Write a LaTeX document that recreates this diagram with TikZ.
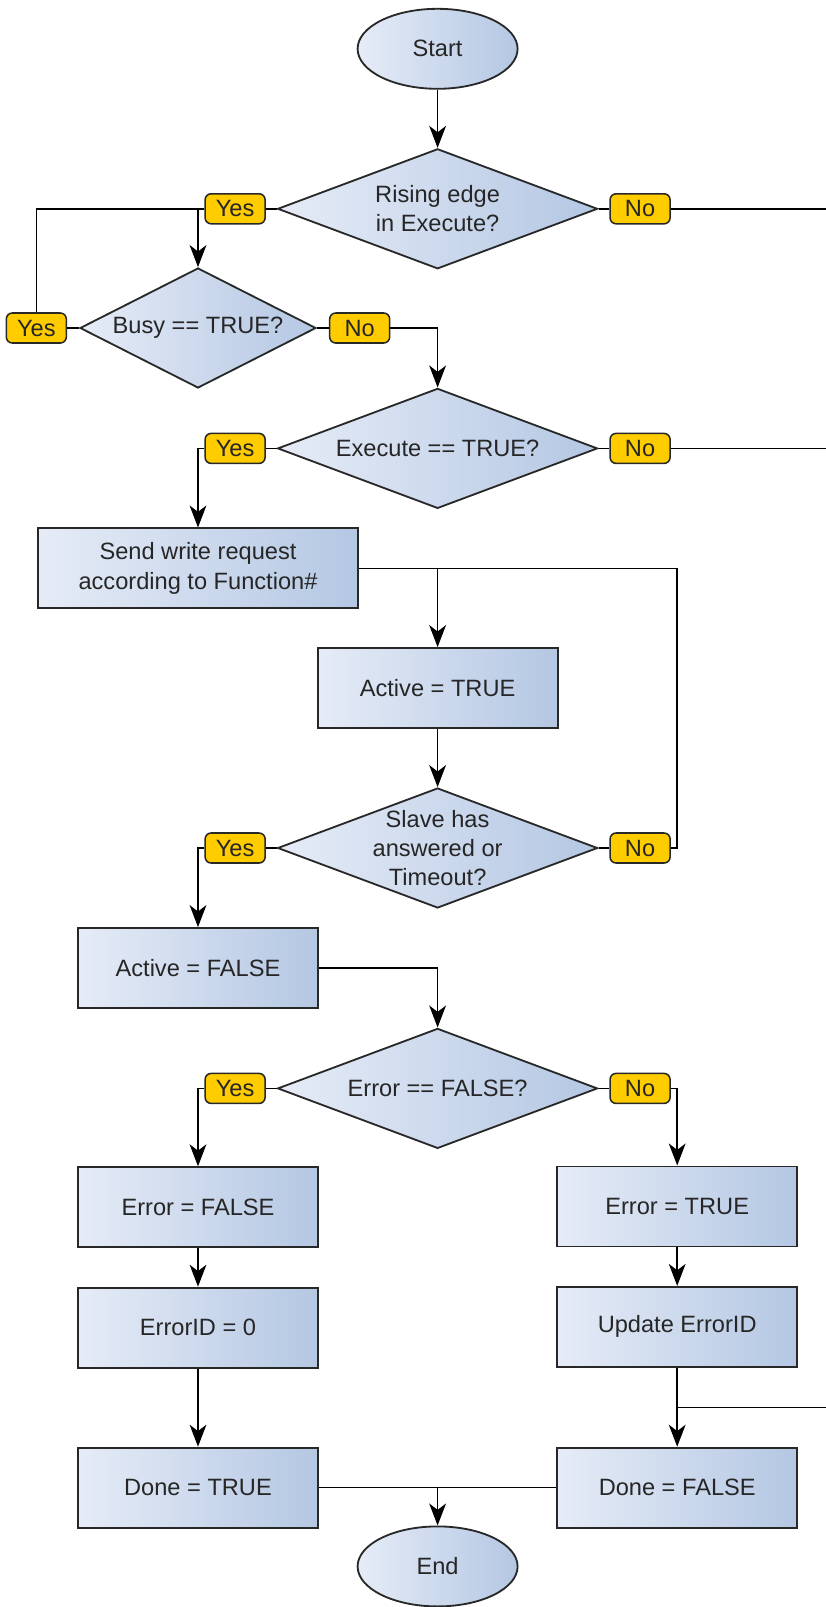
\documentclass[tikz,border=0pt]{standalone}
\usepackage{fontspec}
\setmainfont{Liberation Sans}
\usetikzlibrary{shapes.geometric,arrows.meta,positioning}

\definecolor{boxlight}{RGB}{230,236,247}
\definecolor{boxdark}{RGB}{180,199,227}
\definecolor{tagfill}{RGB}{255,204,0}
\definecolor{edgegray}{RGB}{40,40,40}

\begin{document}
\begin{tikzpicture}[
    node distance=0.27cm,
    base/.style={
        draw=edgegray,
        line width=1.3pt,
        left color=boxlight,
        right color=boxdark,
        align=center,
        text=black!85,
        font=\fontsize{16.8}{20.8}\selectfont
    },
    terminal/.style={base, ellipse, minimum width=4cm, minimum height=2cm, inner sep=0pt},
    process/.style={base, rectangle, minimum width=6cm, minimum height=2cm, inner sep=0pt},
    decision/.style={base, diamond, aspect=2.667, minimum width=8cm, minimum height=3cm, inner sep=-0.3cm},
    tag/.style={
        draw=edgegray,
        line width=1.1pt,
        fill=tagfill,
        rounded corners=0.15cm,
        minimum width=1.5cm,
        minimum height=0.75cm,
        inner sep=0pt,
        text=black!85,
        font=\fontsize{16.8}{20.8}\selectfont
    },
    link/.style={line width=1.1pt},
    arrow/.style={link, -{Stealth[length=5.5mm, width=4.2mm, inset=1.6mm]}}
]
\useasboundingbox (0,0) rectangle (20.65,-40.175);

% Nodes
\node[terminal] (start) at (10.94,-1.22) {Start};
\node[decision] (rising) at (10.94,-5.22) {Rising edge\\in Execute?};
\node[decision, minimum width=5.9cm, aspect=1.97] (busy) at (4.95,-8.2) {Busy == TRUE?};
\node[decision] (exec) at (10.94,-11.21) {Execute == TRUE?};
\node[process, minimum width=8cm] (send) at (4.95,-14.21) {Send write request\\according to Function\#};
\node[process] (actT) at (10.94,-17.2) {Active = TRUE};
\node[decision] (answer) at (10.94,-21.2) {Slave has\\answered or\\Timeout?};
\node[process] (actF) at (4.95,-24.2) {Active = FALSE};
\node[decision] (errchk) at (10.94,-27.21) {Error == FALSE?};
\node[process] (errF) at (4.95,-30.18) {Error = FALSE};
\node[process] (errT) at (16.93,-30.16) {Error = TRUE};
\node[process] (idzero) at (4.95,-33.19) {ErrorID = 0};
\node[process] (idupd) at (16.93,-33.17) {Update ErrorID};
\node[process] (doneT) at (4.95,-37.19) {Done = TRUE};
\node[process] (doneF) at (16.93,-37.19) {Done = FALSE};
\node[terminal] (end) at (10.94,-39.16) {End};

% Yes / No tags
\node[tag, left=of rising] (yes1) {Yes};
\node[tag, right=of rising] (no1) {No};
\node[tag, left=0.3cm of busy] (yes2) {Yes};
\node[tag, right=0.3cm of busy] (no2) {No};
\node[tag, left=of exec] (yes3) {Yes};
\node[tag, right=of exec] (no3) {No};
\node[tag, left=of answer] (yes4) {Yes};
\node[tag, right=of answer] (no4) {No};
\node[tag, left=of errchk] (yes5) {Yes};
\node[tag, right=of errchk] (no5) {No};

% right rim where the No branches leave and come back
\coordinate (rim) at (20.65,0);
\coordinate (rejoin) at (20.65,-35.19);

% Main flow
\draw[arrow] (start) -- (rising);
\draw[link] (rising) -- (yes1);
\draw[link] (rising) -- (no1);
\draw[arrow] (yes1.west) -| (busy.north);
\draw[link] (yes1.west) -| (yes2.north);
\draw[link] (no1.east) -- (no1.east -| rim);

\draw[link] (busy) -- (yes2);
\draw[link] (busy) -- (no2);
\draw[arrow] (no2.east) -| (exec.north);

\draw[link] (exec) -- (yes3);
\draw[link] (exec) -- (no3);
\draw[arrow] (yes3.west) -| (send.north);
\draw[link] (no3.east) -- (no3.east -| rim);

\draw[arrow] (send.east) -| (actT.north);
\draw[arrow] (actT) -- (answer);

% Wait loop
\draw[link] (answer) -- (yes4);
\draw[link] (answer) -- (no4);
\draw[link] (no4.east) -| (errT.north |- send.east) -- (send.east);
\draw[arrow] (yes4.west) -| (actF.north);
\draw[arrow] (actF.east) -| (errchk.north);

% Error handling
\draw[link] (errchk) -- (yes5);
\draw[link] (errchk) -- (no5);
\draw[arrow] (yes5.west) -| (errF.north);
\draw[arrow] (no5.east) -| (errT.north);
\draw[arrow] (errF) -- (idzero);
\draw[arrow] (errT) -- (idupd);
\draw[arrow] (idzero) -- (doneT);
\draw[arrow] (idupd) -- (doneF);
\draw[link] (rejoin) -- (rejoin -| doneF.north);

% Finish
\draw[link] (doneT.east) -- (doneF.west);
\draw[arrow] (doneT.east -| end.north) -- (end.north);

\end{tikzpicture}
\end{document}
